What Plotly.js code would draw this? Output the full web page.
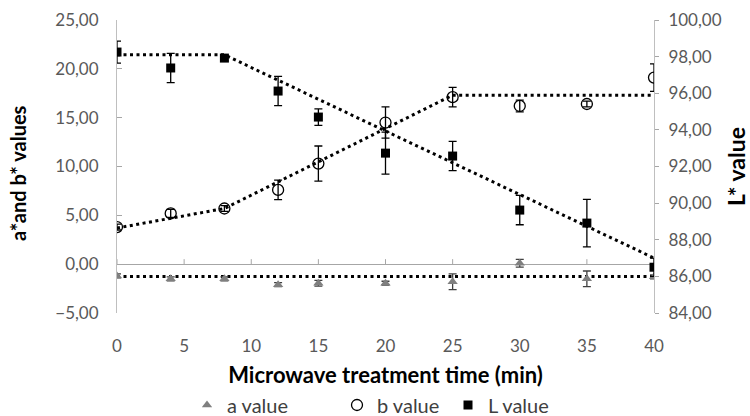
<!DOCTYPE html>
<html>
<head>
<meta charset="utf-8">
<script src="https://cdn.plot.ly/plotly-3.0.1.min.js"></script>
<style>html,body{margin:0;padding:0;background:#fff;}#chart{width:750px;height:416px;}</style>
</head>
<body>
<div id="chart"></div>
<script>
// Data
const time = [0, 4, 8, 12, 15, 20, 25, 30, 35, 40];
const aValue = [-1.2, -1.5, -1.5, -2.1, -1.95, -1.95, -1.8, 0.1, -1.5, -1.3];
const aError = [0.2, 0.2, 0.2, 0.2, 0.3, 0.2, 0.8, 0.4, 0.8, 0.2];
const bValue = [3.8, 5.2, 5.7, 7.6, 10.3, 14.5, 17.1, 16.2, 16.4, 19.1];
const bError = [0.3, 0.4, 0.3, 1.0, 1.8, 1.6, 1.0, 0.6, 0.3, 1.4];
const lValue = [98.25, 97.38, 97.92, 96.12, 94.7, 92.73, 92.57, 89.62, 88.91, 86.5];
const lError = [0.6, 0.8, 0.15, 0.8, 0.45, 1.15, 0.8, 0.8, 1.3, 0.5];
// Fitted trend lines (dotted)
const aTrendX = [0, 40];
const aTrendY = [-1.25, -1.25];
const bTrendX = [0, 8, 25, 40];
const bTrendY = [3.7, 5.7, 17.3, 17.3];
const lTrendX = [0, 8, 40];
const lTrendY = [98.1, 98.1, 87.0];
const xTicks = [0, 5, 10, 15, 20, 25, 30, 35, 40];

const FONT = 'Lato, "Open Sans", sans-serif';
const dotLine = {color: '#000', width: 3, dash: '3px,3.5px'};
const AXIS_GRAY = '#a6a6a6';

const traces = [
  {x: aTrendX, y: aTrendY, mode: 'lines', line: dotLine, showlegend: false, hoverinfo: 'skip', yaxis: 'y'},
  {x: bTrendX, y: bTrendY, mode: 'lines', line: dotLine, showlegend: false, hoverinfo: 'skip', yaxis: 'y'},
  {x: lTrendX, y: lTrendY, mode: 'lines', line: dotLine, showlegend: false, hoverinfo: 'skip', yaxis: 'y2'},
  {x: time, y: aValue, name: 'a value', mode: 'markers', yaxis: 'y', legend: 'legend',
   marker: {symbol: 'triangle-up', size: 9, color: '#7f7f7f'},
   error_y: {type: 'data', array: aError, visible: true, color: '#404040', thickness: 1.3, width: 4}},
  {x: time, y: bValue, name: 'b value', mode: 'markers', yaxis: 'y', legend: 'legend2',
   marker: {symbol: 'circle-open', size: 11, color: '#000', line: {width: 1.3, color: '#000'}},
   error_y: {type: 'data', array: bError, visible: true, color: '#000', thickness: 1.3, width: 4}},
  {x: time, y: lValue, name: 'L value', mode: 'markers', yaxis: 'y2', legend: 'legend3',
   marker: {symbol: 'square', size: 9, color: '#000'},
   error_y: {type: 'data', array: lError, visible: true, color: '#000', thickness: 1.3, width: 4}}
];

// small upward tick marks on the horizontal axis line drawn at y = 0
const tickShapes = xTicks.map(t => ({
  type: 'line', xref: 'x', yref: 'y', ysizemode: 'pixel', yanchor: 0,
  x0: t, x1: t, y0: 0, y1: 5, line: {color: AXIS_GRAY, width: 1}, layer: 'below'
}));

const legendFont = {family: FONT, size: 20, color: '#404040'};
function legendAt(px) {
  return {orientation: 'h', x: (px - 117) / 537, xanchor: 'left', y: -0.314, yanchor: 'middle',
          font: legendFont, bgcolor: 'rgba(0,0,0,0)'};
}

const layout = {
  width: 750, height: 416,
  margin: {l: 117, r: 96, t: 20, b: 103, autoexpand: false},
  paper_bgcolor: '#fff', plot_bgcolor: '#fff',
  separators: ',.',
  font: {family: FONT, color: '#595959', size: 16},
  showlegend: true,
  legend: legendAt(187),
  legend2: legendAt(337),
  legend3: legendAt(448),
  shapes: tickShapes,
  annotations: [{
    text: 'a*and b* values', textangle: -90, xref: 'paper', yref: 'paper',
    x: 0, xshift: -99, y: (313 - 173) / 293, xanchor: 'center', yanchor: 'middle', showarrow: false,
    font: {family: FONT, size: 20, color: '#000', weight: 'bold'}
  }],
  xaxis: {range: [0, 40], tickvals: xTicks, ticktext: xTicks.map(String), showline: false, zeroline: false,
          showgrid: false, ticks: '', ticklabelstandoff: 21,
          tickfont: {family: FONT, size: 17, color: '#595959'},
          title: {text: 'Microwave treatment time (min)', standoff: 12,
                  font: {family: FONT, size: 22, color: '#000', weight: 'bold'}}},
  yaxis: {range: [-5, 25], dtick: 5, tickformat: '.2f', showgrid: false,
          zeroline: true, zerolinecolor: AXIS_GRAY, zerolinewidth: 1,
          showline: true, linecolor: '#bfbfbf', linewidth: 1, ticks: 'inside', ticklen: 5, tickcolor: AXIS_GRAY,
          ticklabelstandoff: 14,
          tickfont: {family: FONT, size: 17, color: '#595959'}},
  yaxis2: {range: [84, 100], dtick: 2, tickformat: '.2f', overlaying: 'y', side: 'right', showgrid: false,
           zeroline: false, showline: true, linecolor: '#bfbfbf', linewidth: 1, ticks: 'outside', ticklen: 4,
           tickcolor: AXIS_GRAY, ticklabelstandoff: 6,
           tickfont: {family: FONT, size: 17, color: '#595959'},
           title: {text: 'L* value', standoff: 10,
                   font: {family: FONT, size: 23, color: '#000', weight: 'bold'}}}
};

Plotly.newPlot('chart', traces, layout, {staticPlot: true, displayModeBar: false});
</script>
</body>
</html>
